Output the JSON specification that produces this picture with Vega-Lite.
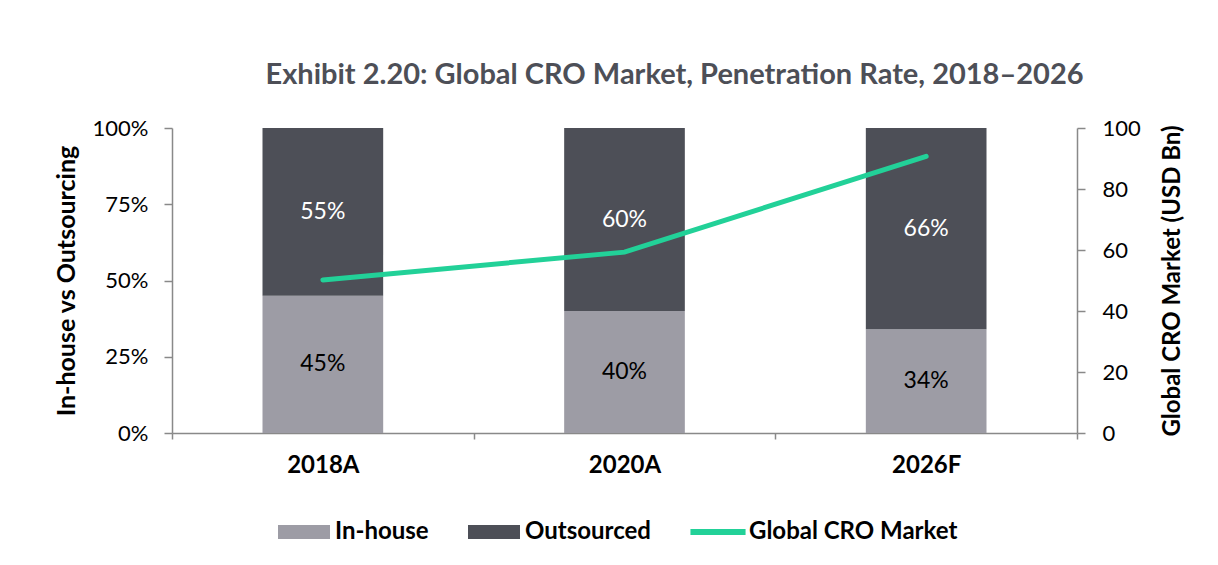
{
  "$schema": "https://vega.github.io/schema/vega-lite/v6.json",
  "width": 905,
  "height": 305,
  "autosize": {"type": "none"},
  "padding": {"left": 172, "top": 128, "right": 141, "bottom": 132},
  "background": "white",
  "title": {
    "text": "Exhibit 2.20: Global CRO Market, Penetration Rate, 2018–2026",
    "anchor": "middle",
    "dx": 50,
    "offset": 27,
    "fontSize": 29,
    "font": "Lato",
    "fontWeight": "bold",
    "color": "#4d4f57"
  },
  "config": {
    "view": {"stroke": null},
    "font": "Lato",
    "axis": {
      "domainColor": "#898989",
      "tickColor": "#898989",
      "domainWidth": 1.5,
      "tickWidth": 1.5,
      "grid": false,
      "labelFont": "Lato",
      "titleFont": "Lato",
      "labelColor": "black",
      "titleColor": "black"
    }
  },
  "layer": [
    {
      "data": {
        "values": [
          {"period": "2018A", "type": "In-house", "share": 0.45},
          {"period": "2018A", "type": "Outsourced", "share": 0.55},
          {"period": "2020A", "type": "In-house", "share": 0.40},
          {"period": "2020A", "type": "Outsourced", "share": 0.60},
          {"period": "2026F", "type": "In-house", "share": 0.34},
          {"period": "2026F", "type": "Outsourced", "share": 0.66}
        ]
      },
      "transform": [
        {"stack": "share", "groupby": ["period"], "sort": [{"field": "type", "order": "ascending"}], "as": ["s0", "s1"]},
        {"calculate": "(datum.s0 + datum.s1) / 2", "as": "mid"}
      ],
      "encoding": {
        "x": {
          "field": "period",
          "type": "nominal",
          "sort": null,
          "scale": {"paddingInner": 0, "paddingOuter": 0},
          "axis": {
            "title": null,
            "labelAngle": 0,
            "labelFontSize": 24,
            "labelFontWeight": "bold",
            "tickBand": "extent",
            "tickSize": 6,
            "labelPadding": 14
          }
        }
      },
      "layer": [
        {
          "mark": {"type": "bar", "width": {"band": 0.4}},
          "encoding": {
            "y": {
              "field": "s1",
              "type": "quantitative",
              "title": "In-house vs Outsourcing",
              "scale": {"domain": [0, 1]},
              "axis": {
                "values": [0, 0.25, 0.5, 0.75, 1],
                "format": ".0%",
                "labelFontSize": 22,
                "tickSize": 8,
                "labelPadding": 16,
                "titleFontSize": 25,
                "titleFontWeight": "bold",
                "titlePadding": 13
              }
            },
            "y2": {"field": "s0"},
            "color": {
              "field": "type",
              "type": "nominal",
              "scale": {
                "domain": ["In-house", "Outsourced", "Global CRO Market"],
                "range": ["#9d9ca5", "#4d4f57", "#22d198"]
              },
              "legend": {
                "title": null,
                "orient": "none",
                "legendX": 106,
                "legendY": 378,
                "direction": "horizontal",
                "labelFont": "Lato",
                "labelFontSize": 24,
                "labelFontWeight": "bold",
                "labelColor": "black",
                "labelLimit": 0,
                "symbolType": "M-1,-0.27L1,-0.27L1,0.27L-1,0.27Z",
                "symbolSize": 2704,
                "symbolStrokeWidth": 0,
                "columnPadding": 39,
                "labelOffset": 5,
                "encode": {
                  "symbols": {
                    "update": {
                      "shape": {"signal": "datum.value === 'Global CRO Market' ? 'M-1.06,-0.115L1.06,-0.115L1.06,0.115L-1.06,0.115Z' : 'M-1,-0.27L1,-0.27L1,0.27L-1,0.27Z'"},
                      "fill": {"scale": "color", "field": "value"},
                      "opacity": {"value": 1}
                    }
                  }
                }
              }
            }
          }
        },
        {
          "transform": [{"filter": "datum.type === 'In-house'"}],
          "mark": {"type": "text", "fontSize": 23, "color": "black", "font": "Lato"},
          "encoding": {
            "y": {"field": "mid", "type": "quantitative", "title": "In-house vs Outsourcing"},
            "text": {"field": "share", "type": "quantitative", "format": ".0%"}
          }
        },
        {
          "transform": [{"filter": "datum.type === 'Outsourced'"}],
          "mark": {"type": "text", "fontSize": 23, "color": "white", "font": "Lato"},
          "encoding": {
            "y": {"field": "mid", "type": "quantitative", "title": "In-house vs Outsourcing"},
            "text": {"field": "share", "type": "quantitative", "format": ".0%"}
          }
        }
      ]
    },
    {
      "data": {
        "values": [
          {"period": "2018A", "market": 50.2},
          {"period": "2020A", "market": 59.3},
          {"period": "2026F", "market": 90.7}
        ]
      },
      "mark": {"type": "line", "strokeWidth": 5, "strokeCap": "round"},
      "encoding": {
        "x": {"field": "period", "type": "nominal", "sort": null},
        "y": {
          "field": "market",
          "type": "quantitative",
          "title": "Global CRO Market (USD Bn)",
          "scale": {"domain": [0, 100]},
          "axis": {
            "orient": "right",
            "values": [0, 20, 40, 60, 80, 100],
            "labelFontSize": 22,
            "tickSize": 8,
            "labelPadding": 17,
            "titleFontSize": 24,
            "titleFontWeight": "bold",
            "titleAngle": -90,
            "titlePadding": 44
          }
        },
        "color": {"datum": "Global CRO Market"}
      }
    }
  ],
  "resolve": {"scale": {"y": "independent"}}
}
